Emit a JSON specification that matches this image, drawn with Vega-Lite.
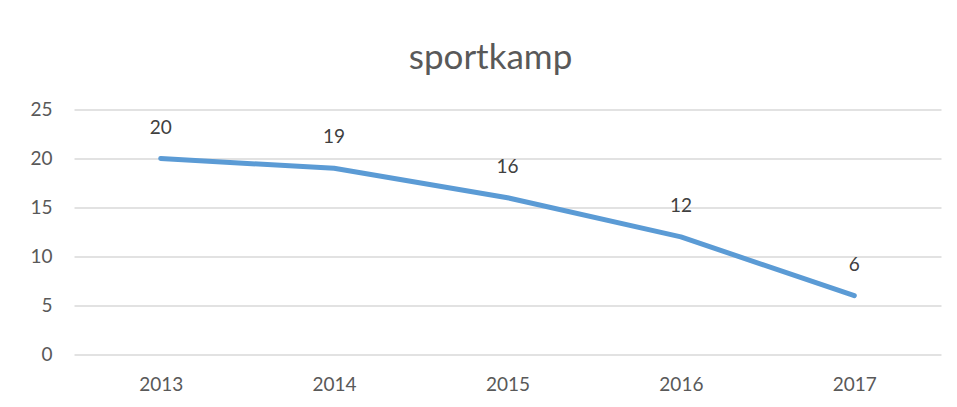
{
  "$schema": "https://vega.github.io/schema/vega-lite/v6.json",
  "width": 867,
  "height": 245,
  "autosize": {"type": "none"},
  "padding": {"left": 74, "top": 109.5, "right": 16, "bottom": 52.5},
  "background": "white",
  "config": {
    "view": {"stroke": null},
    "font": "Lato",
    "axis": {"labelFont": "Lato", "labelFontSize": 19, "labelColor": "#595959"}
  },
  "title": {
    "text": "sportkamp",
    "fontSize": 35,
    "font": "Lato",
    "fontWeight": "normal",
    "color": "#595959",
    "anchor": "middle",
    "dx": -17,
    "dy": 5,
    "baseline": "alphabetic",
    "offset": 2
  },
  "data": {
    "values": [
      {"year": "2013", "value": 20},
      {"year": "2014", "value": 19},
      {"year": "2015", "value": 16},
      {"year": "2016", "value": 12},
      {"year": "2017", "value": 6}
    ]
  },
  "encoding": {
    "x": {
      "field": "year",
      "type": "ordinal",
      "scale": {"padding": 0.5},
      "axis": {"title": null, "domain": false, "ticks": false, "grid": false, "labelAngle": 0, "labelPadding": 21}
    },
    "y": {
      "field": "value",
      "type": "quantitative",
      "scale": {"domain": [0, 25], "nice": false},
      "axis": {"title": null, "values": [0, 5, 10, 15, 20, 25], "domain": false, "ticks": false, "grid": true, "gridColor": "#d9d9d9", "gridWidth": 1.5, "labelPadding": 22}
    }
  },
  "layer": [
    {
      "mark": {"type": "line", "color": "#5b9bd5", "strokeWidth": 5, "strokeCap": "round", "strokeJoin": "round"}
    },
    {
      "mark": {"type": "text", "dy": -31, "fontSize": 19, "color": "#404040", "font": "Lato"},
      "encoding": {"text": {"field": "value", "type": "quantitative"}}
    }
  ]
}
